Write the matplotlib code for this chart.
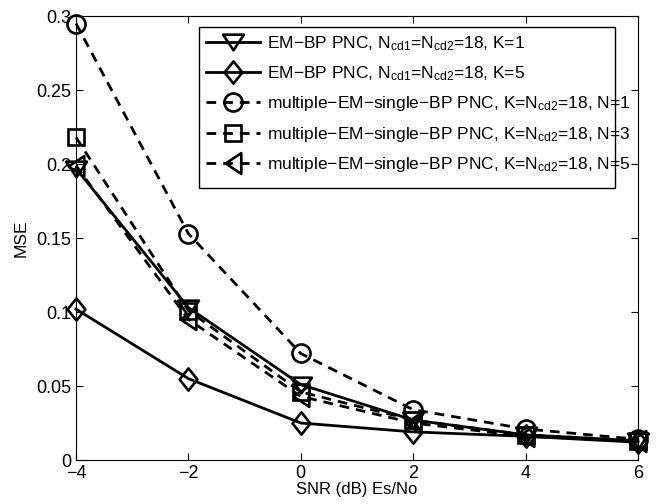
import numpy as np
import matplotlib
matplotlib.use("Agg")
import matplotlib.pyplot as plt
from matplotlib.path import Path
from matplotlib.patches import Rectangle

plt.rcParams['font.family'] = ['Liberation Sans', 'DejaVu Sans']
plt.rcParams['mathtext.fontset'] = 'custom'
plt.rcParams['mathtext.rm'] = 'Liberation Sans'
plt.rcParams['mathtext.it'] = 'Liberation Sans'

snr = [-4, -2, 0, 2, 4, 6]

# MSE values
mse_k1 = [0.197, 0.103, 0.051, 0.027, 0.017, 0.013]
mse_k5 = [0.102, 0.055, 0.025, 0.019, 0.016, 0.012]
mse_n1 = [0.295, 0.153, 0.072, 0.034, 0.021, 0.014]
mse_n3 = [0.218, 0.101, 0.046, 0.027, 0.017, 0.013]
mse_n5 = [0.199, 0.095, 0.043, 0.025, 0.016, 0.013]

labels = [
    r'EM−BP PNC, N$_{\rm cd1}$=N$_{\rm cd2}$=18, K=1',
    r'EM−BP PNC, N$_{\rm cd1}$=N$_{\rm cd2}$=18, K=5',
    r'multiple−EM−single−BP PNC, K=N$_{\rm cd2}$=18, N=1',
    r'multiple−EM−single−BP PNC, K=N$_{\rm cd2}$=18, N=3',
    r'multiple−EM−single−BP PNC, K=N$_{\rm cd2}$=18, N=5',
]

# matlab-ish marker shapes (triangles flatter, diamond taller)
tri_down = Path([(-1, 0.75), (1, 0.75), (0, -0.75), (-1, 0.75)], closed=True)
tri_left = Path([(0.75, 1), (0.75, -1), (-0.75, 0), (0.75, 1)], closed=True)
diamond = Path([(0, 1), (0.8, 0), (0, -1), (-0.8, 0), (0, 1)], closed=True)

fig = plt.figure(figsize=(6.57, 5.04), dpi=100)
ax = fig.add_axes([0.1157, 0.0873, 0.8553, 0.8807])

style = dict(color='k', lw=2.0, markerfacecolor='none', markeredgewidth=1.9,
             clip_on=False)
dash = (0, (3.5, 2.5))
ax.plot(snr, mse_k1, '-', marker=tri_down, markersize=15, label=labels[0], **style)
ax.plot(snr, mse_k5, '-', marker=diamond, markersize=16, label=labels[1], **style)
ax.plot(snr, mse_n1, linestyle=dash, marker='o', markersize=13, label=labels[2], **style)
ax.plot(snr, mse_n3, linestyle=dash, marker='s', markersize=12, label=labels[3], **style)
ax.plot(snr, mse_n5, linestyle=dash, marker=tri_left, markersize=15, label=labels[4], **style)

ax.set_xlim(-4, 6)
ax.set_ylim(0, 0.3)
ax.set_xticks([-4, -2, 0, 2, 4, 6])
ax.set_yticks([0, 0.05, 0.1, 0.15, 0.2, 0.25, 0.3])
ax.set_yticklabels(['0', '0.05', '0.1', '0.15', '0.2', '0.25', '0.3'])
ax.tick_params(direction='in', top=True, right=True, labelsize=13, length=5,
               pad=3.5)
ax.set_xlabel('SNR (dB) Es/No', fontsize=12, labelpad=0)
ax.set_ylabel('MSE', fontsize=12.5, labelpad=5)

# legend box (matlab draws it a bit narrower than the longest labels)
ax.add_patch(Rectangle((0.219, 0.6126), 0.74, 0.3624, transform=ax.transAxes,
                       facecolor='white', edgecolor='k', lw=1.0, zorder=4.5))
leg = ax.legend(loc='upper left', bbox_to_anchor=(0.219, 0.975), borderaxespad=0,
                fontsize=12.5, handlelength=3.1, handletextpad=0.4, borderpad=0.4,
                labelspacing=0.66, frameon=False)
leg.set_zorder(5)

fig.savefig('out.png', dpi=100)
